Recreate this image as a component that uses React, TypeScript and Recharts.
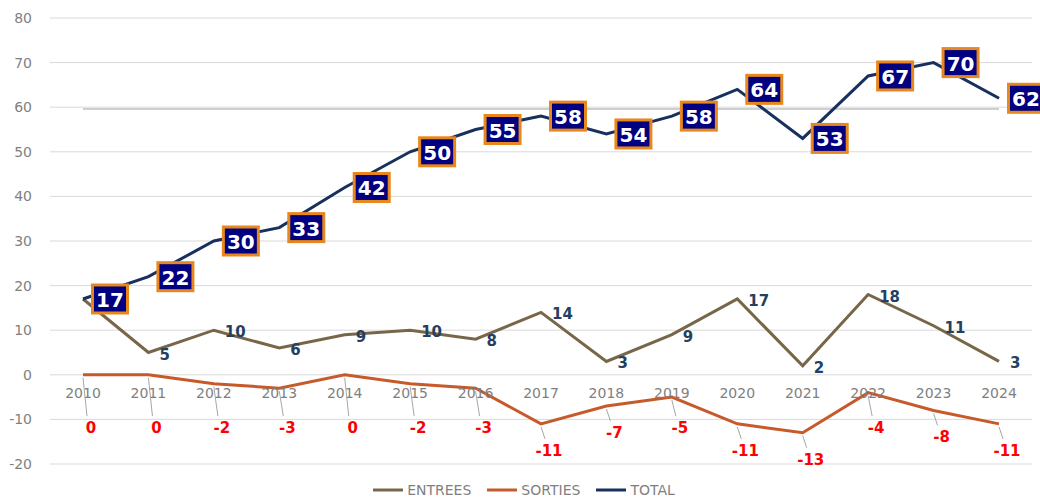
import { CartesianGrid, LabelList, Legend, Line, LineChart, ReferenceLine, XAxis, YAxis } from "recharts";

const years = ["2010", "2011", "2012", "2013", "2014", "2015", "2016", "2017", "2018", "2019", "2020", "2021", "2022", "2023", "2024"];
const entrees = [17, 5, 10, 6, 9, 10, 8, 14, 3, 9, 17, 2, 18, 11, 3];
const sorties = [0, 0, -2, -3, 0, -2, -3, -11, -7, -5, -11, -13, -4, -8, -11];
const total = [17, 22, 30, 33, 42, 50, 55, 58, 54, 58, 64, 53, 67, 70, 62];
const yTicks = [-20, -10, 0, 10, 20, 30, 40, 50, 60, 70, 80];

const data = years.map((year, i) => ({
  year,
  entrees: entrees[i],
  sorties: sorties[i],
  total: total[i],
}));

const font = "'DejaVu Sans', Verdana, sans-serif";
const colors = { entrees: "#786649", sorties: "#C65A2A", total: "#17305E" };

function YearLabel({ x, y, value }: any) {
  return (
    <text x={x} y={y + 18} textAnchor="middle" dominantBaseline="central" fill="#7f7f7f" fontSize={14} fontFamily={font}>
      {value}
    </text>
  );
}

function EntreeLabel({ x, y, value, index }: any) {
  if (index === 0) return null;
  return (
    <text x={x + 11} y={y + 2} dominantBaseline="central" fill="#243F60" fontSize={15} fontWeight="bold" fontFamily={font}>
      {value}
    </text>
  );
}

function SortieLabel({ x, y, value }: any) {
  const ly = Math.max(y + 27, 428);
  const lx = x + 8;
  return (
    <g>
      <line x1={x} y1={y + 3} x2={x + 4} y2={ly - 12} stroke="#a6a6a6" strokeWidth={1} />
      <text x={lx} y={ly} textAnchor="middle" dominantBaseline="central" fill="#FF0000" fontSize={15} fontWeight="bold" fontFamily={font}>
        {value}
      </text>
    </g>
  );
}

function TotalLabel({ x, y, value }: any) {
  const cx = x + 27;
  return (
    <g>
      <rect x={cx - 17.5} y={y - 14} width={35} height={28} fill="#000080" stroke="#E8871E" strokeWidth={3} />
      <text x={cx} y={y + 1} textAnchor="middle" dominantBaseline="central" fill="#fff" fontSize={20} fontWeight="bold" fontFamily={font}>
        {value}
      </text>
    </g>
  );
}

const legendItems = [
  { name: "ENTREES", color: colors.entrees },
  { name: "SORTIES", color: colors.sorties },
  { name: "TOTAL", color: colors.total },
];

function LegendContent() {
  return (
    <div style={{ display: "flex", justifyContent: "center", gap: 16, paddingTop: 18, paddingLeft: 16, fontFamily: font, fontSize: 14, color: "#7f7f7f" }}>
      {legendItems.map((item) => (
        <div key={item.name} style={{ display: "flex", alignItems: "center", gap: 4 }}>
          <svg width={30} height={4}>
            <line x1={0} y1={2} x2={30} y2={2} stroke={item.color} strokeWidth={3} />
          </svg>
          <span>{item.name}</span>
        </div>
      ))}
    </div>
  );
}

export default function App() {
  return (
    <div style={{ position: "absolute", left: 0, top: 0, width: 1040, height: 500, background: "#fff", fontFamily: font }}>
      <LineChart width={1040} height={500} data={data} margin={{ top: 18, right: 8, bottom: 0, left: 0 }}>
        <CartesianGrid vertical={false} stroke="#d9d9d9" />
        <XAxis dataKey="year" hide padding={{ left: 33, right: 33 }} />
        <YAxis
          domain={[-20, 80]}
          ticks={yTicks}
          width={50}
          axisLine={false}
          tickLine={false}
          tickMargin={12}
          tick={{ fill: "#7f7f7f", fontSize: 14, fontFamily: font }}
        />
        <ReferenceLine
          segment={[
            { x: "2010", y: 59.6 },
            { x: "2024", y: 59.6 },
          ]}
          stroke="#bfbfbf"
          strokeWidth={1.5}
        />
        <Legend verticalAlign="bottom" height={36} content={<LegendContent />} />
        <Line dataKey={() => 0} stroke="none" dot={false} legendType="none" isAnimationActive={false}>
          <LabelList dataKey="year" content={<YearLabel />} />
        </Line>
        <Line dataKey="entrees" name="ENTREES" stroke={colors.entrees} strokeWidth={3} dot={false} isAnimationActive={false}>
          <LabelList dataKey="entrees" content={<EntreeLabel />} />
        </Line>
        <Line dataKey="sorties" name="SORTIES" stroke={colors.sorties} strokeWidth={3} dot={false} isAnimationActive={false}>
          <LabelList dataKey="sorties" content={<SortieLabel />} />
        </Line>
        <Line dataKey="total" name="TOTAL" stroke={colors.total} strokeWidth={3} dot={false} isAnimationActive={false}>
          <LabelList dataKey="total" content={<TotalLabel />} />
        </Line>
      </LineChart>
    </div>
  );
}
